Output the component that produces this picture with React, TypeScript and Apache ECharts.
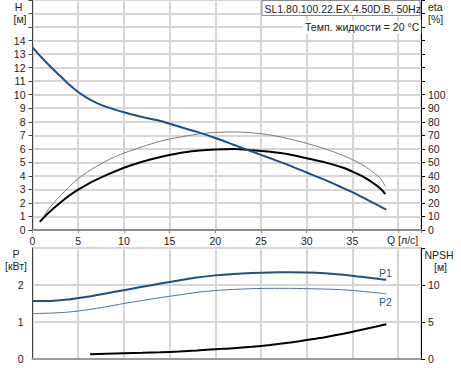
import React, { useEffect, useRef } from "react";
import * as echarts from "echarts";

const qH = [0, 1, 2, 3, 4, 5, 6, 7, 8, 9, 10, 12, 14, 16, 18, 20, 22, 24, 26, 28, 30, 32, 34, 35, 36, 37, 38, 38.7];
const headH = [13.5, 12.75, 12.05, 11.4, 10.75, 10.2, 9.75, 9.4, 9.12, 8.9, 8.7, 8.35, 8.05, 7.65, 7.25, 6.8, 6.3, 5.8, 5.3, 4.8, 4.25, 3.7, 3.1, 2.8, 2.45, 2.1, 1.75, 1.5];

const qE = [0.8, 1.5, 2, 3, 4, 5, 6, 7, 8.5, 10, 12, 14, 16, 18, 20, 22, 24, 26, 28, 30, 32, 34, 35, 36, 37, 38, 38.6];
const etaTotal = [6, 11, 14.2, 20, 25.3, 29.8, 33.8, 37.2, 41.8, 46, 50.5, 54, 56.8, 58.5, 59.5, 59.8, 59, 57.8, 56, 53, 50, 46, 43.2, 40, 36, 31, 26.5];
const etaHydr = [6, 13, 17.5, 25, 31.8, 37.9, 42.8, 47, 52.5, 56.8, 61.5, 65.7, 68.5, 70.8, 72.1, 72.5, 71.8, 70.2, 67.5, 64, 60, 55, 52, 48.5, 44, 38.5, 32.3];

const qP = [0, 2, 4, 6, 8, 10, 12, 14, 16, 18, 20, 22, 24, 26, 28, 30, 32, 34, 36, 38, 38.7];
const powerP1 = [1.57, 1.57, 1.61, 1.68, 1.77, 1.86, 1.95, 2.04, 2.12, 2.2, 2.26, 2.3, 2.325, 2.34, 2.345, 2.34, 2.32, 2.28, 2.22, 2.16, 2.14];
const powerP2 = [1.23, 1.24, 1.27, 1.33, 1.41, 1.5, 1.58, 1.66, 1.73, 1.8, 1.85, 1.88, 1.9, 1.91, 1.91, 1.9, 1.89, 1.87, 1.83, 1.78, 1.76];

const qN = [6.3, 8, 10, 12, 14, 16, 18, 20, 22, 24, 26, 28, 30, 32, 34, 36, 38, 38.7];
const npsh = [0.64, 0.7, 0.77, 0.83, 0.9, 1.0, 1.15, 1.32, 1.45, 1.65, 1.9, 2.2, 2.57, 2.95, 3.4, 3.95, 4.5, 4.69];

const titleText = "SL1.80.100.22.EX.4.50D.B, 50Hz";
const tempText = "Темп. жидкости = 20 °C";

const pairs = (xs: number[], ys: number[]) => xs.map((x, i) => [x, ys[i]]);

const FONT = "'Liberation Sans', Arial, sans-serif";
const FS = 10.5;
const GRID_COLOR = "#d6d6d6";

export default function App() {
  const ref = useRef<HTMLDivElement>(null);
  useEffect(() => {
    if (!ref.current) return;
    const chart = echarts.init(ref.current, undefined, { renderer: "svg" });
    const txt = (x: number, y: number, text: string, align = "center", color = "#222") => ({
      type: "text",
      x,
      y,
      style: { text, fill: color, font: `${FS}px ${FONT}`, align, verticalAlign: "middle" },
      z: 10,
    });
    const line = (color: string, width: number) => ({
      type: "line",
      smooth: 0.3,
      showSymbol: false,
      lineStyle: { color, width },
    });
    chart.setOption({
      animation: false,
      textStyle: { fontFamily: FONT, fontSize: FS },
      grid: [
        { left: 32.5, width: 388.5, top: 0, height: 230, show: false },
        { left: 32.5, width: 388.5, top: 248, height: 111, show: true, borderColor: "#666", borderWidth: 1, backgroundColor: "transparent" },
      ],
      xAxis: [
        {
          type: "value", gridIndex: 0, min: 0, max: 42.5, interval: 5,
          axisLine: { show: true, onZero: false, lineStyle: { color: "#8a8a8a", width: 2 } },
          axisTick: { show: true, length: 3, lineStyle: { color: "#8a8a8a" } },
          axisLabel: { color: "#222", fontSize: FS, margin: 5, formatter: (v: number) => (v <= 35 && v % 5 === 0 ? String(v) : "") },
          splitLine: { show: true, lineStyle: { color: GRID_COLOR, width: 2 } },
        },
        {
          type: "value", gridIndex: 1, min: 0, max: 42.5, interval: 5,
          axisLine: { show: true, onZero: false, lineStyle: { color: "#9a9a9a", width: 2 } },
          axisTick: { show: false },
          axisLabel: { show: false },
          splitLine: { show: true, lineStyle: { color: GRID_COLOR, width: 2 } },
        },
      ],
      yAxis: [
        {
          type: "value", gridIndex: 0, min: 0, max: 17, interval: 1, position: "left",
          axisLine: { show: true, onZero: false, lineStyle: { color: "#444" } },
          axisTick: { show: true, length: 4, lineStyle: { color: "#444" } },
          axisLabel: { color: "#222", fontSize: FS, margin: 7, formatter: (v: number) => (v <= 14 ? String(v) : "") },
          splitLine: { show: true, lineStyle: { color: GRID_COLOR, width: 2 } },
        },
        {
          type: "value", gridIndex: 0, min: 0, max: 170, interval: 10, position: "right",
          axisLine: { show: true, onZero: false, lineStyle: { color: "#000" } },
          axisTick: { show: true, length: 4, lineStyle: { color: "#000" } },
          axisLabel: { color: "#222", fontSize: FS, margin: 7, formatter: (v: number) => (v <= 100 ? String(v) : "") },
          splitLine: { show: false },
        },
        {
          type: "value", gridIndex: 1, min: 0, max: 3, interval: 1, position: "left",
          axisLine: { show: true, onZero: false, lineStyle: { color: "#444" } },
          axisTick: { show: false },
          axisLabel: { color: "#222", fontSize: FS, margin: 9, formatter: (v: number) => (v <= 2 ? String(v) : "") },
          splitLine: { show: true, lineStyle: { color: GRID_COLOR, width: 2 } },
        },
        {
          type: "value", gridIndex: 1, min: 0, max: 15, interval: 5, position: "right",
          axisLine: { show: true, onZero: false, lineStyle: { color: "#000" } },
          axisTick: { show: true, length: 4, lineStyle: { color: "#000" } },
          axisLabel: { color: "#222", fontSize: FS, margin: 7, formatter: (v: number) => (v <= 10 ? String(v) : "") },
          splitLine: { show: false },
        },
      ],
      series: [
        { ...line("#7a7a7a", 1), xAxisIndex: 0, yAxisIndex: 1, data: pairs(qE, etaHydr), z: 3 },
        { ...line("#000", 2), xAxisIndex: 0, yAxisIndex: 1, data: pairs(qE, etaTotal), z: 4 },
        { ...line("#1c4f8a", 2), xAxisIndex: 0, yAxisIndex: 0, data: pairs(qH, headH), z: 5 },
        { ...line("#1c4f8a", 2), xAxisIndex: 1, yAxisIndex: 2, data: pairs(qP, powerP1), z: 5 },
        { ...line("#4a72a8", 1), xAxisIndex: 1, yAxisIndex: 2, data: pairs(qP, powerP2), z: 5 },
        { ...line("#000", 2), xAxisIndex: 1, yAxisIndex: 3, data: pairs(qN, npsh), z: 5 },
      ],
      graphic: [
        { type: "rect", shape: { x: 262, y: 0.5, width: 158, height: 15 }, style: { fill: "#fff", stroke: "#888", lineWidth: 1 }, z: 9 },
        txt(264.5, 8.5, titleText, "left"),
        {
          type: "text", x: 303, y: 27,
          style: { text: tempText, fill: "#222", font: `${FS}px ${FONT}`, align: "left", verticalAlign: "middle", backgroundColor: "#fff", padding: [1, 2, 1, 2] },
          z: 10,
        },
        txt(18.5, 7, "H"),
        txt(20, 19, "[м]"),
        txt(428, 7, "eta", "left"),
        txt(428, 18.5, "[%]", "left"),
        txt(387, 239.5, "Q [л/с]", "left"),
        txt(16, 254, "P"),
        txt(16, 266, "[кВт]"),
        txt(439, 255, "NPSH"),
        txt(440.5, 267, "[м]"),
        txt(379, 273, "P1", "left", "#1f5a9e"),
        txt(379, 301.5, "P2", "left", "#1f5a9e"),
      ],
    });
    return () => chart.dispose();
  }, []);
  return <div ref={ref} style={{ position: "fixed", left: 0, top: 0, width: 461, height: 368, background: "#fff" }} />;
}
